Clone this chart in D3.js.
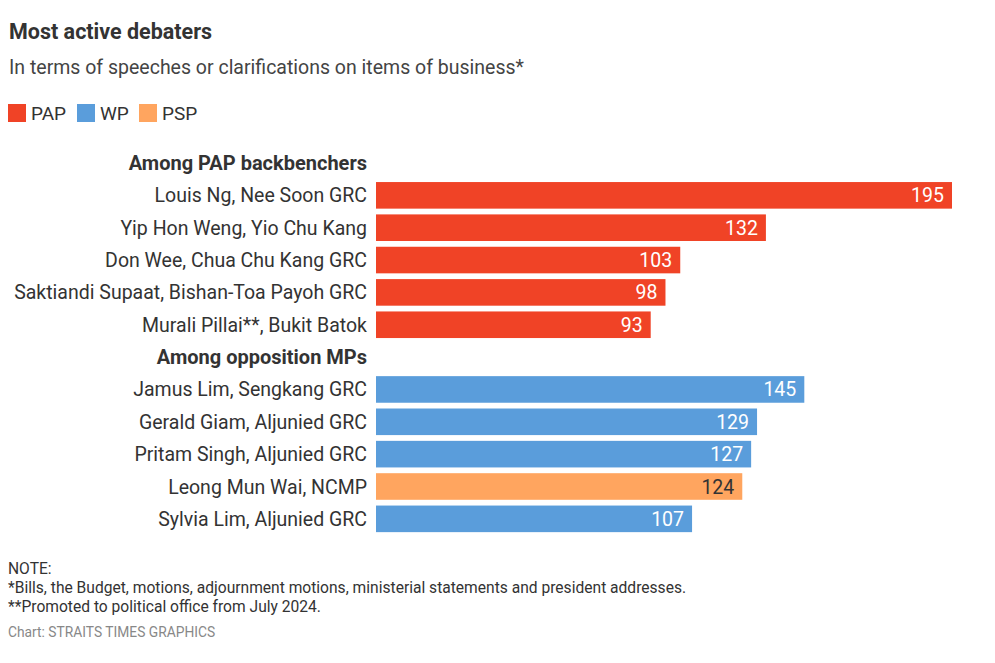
<!DOCTYPE html>
<html>
<head>
<meta charset="utf-8">
<script src="https://cdn.jsdelivr.net/npm/d3@7"></script>
<style>
  body { margin: 0; background: #fff; }
  svg text { font-family: Roboto, "Noto Sans", sans-serif; }
</style>
</head>
<body>
<div id="viz"></div>
<script>
// data
var groups = ['Among PAP backbenchers', 'Among opposition MPs'];

var papNames = ['Louis Ng, Nee Soon GRC', 'Yip Hon Weng, Yio Chu Kang', 'Don Wee, Chua Chu Kang GRC',
  'Saktiandi Supaat, Bishan-Toa Payoh GRC', 'Murali Pillai**, Bukit Batok'];
var papValues = [195, 132, 103, 98, 93];

var oppNames = ['Jamus Lim, Sengkang GRC', 'Gerald Giam, Aljunied GRC', 'Pritam Singh, Aljunied GRC',
  'Leong Mun Wai, NCMP', 'Sylvia Lim, Aljunied GRC'];
var oppValues = [145, 129, 127, 124, 107];
var oppParties = ['WP', 'WP', 'WP', 'PSP', 'WP'];

var parties = ['PAP', 'WP', 'PSP'];
var partyColors = ['#f04326', '#5a9ddb', '#ffa55f'];

var notes = ['NOTE:',
  '*Bills, the Budget, motions, adjournment motions, ministerial statements and president addresses.',
  '**Promoted to political office from July 2024.'];
var credit = 'Chart: STRAITS TIMES GRAPHICS';

// build the row list: a header row then the bars for each group
var rows = [];
rows.push({key: 'h0', header: groups[0]});
papNames.forEach(function(n, i) { rows.push({key: 'p' + i, name: n, value: papValues[i], party: 'PAP'}); });
rows.push({key: 'h1', header: groups[1]});
oppNames.forEach(function(n, i) { rows.push({key: 'o' + i, name: n, value: oppValues[i], party: oppParties[i]}); });

var width = 995, height = 663;
var svg = d3.select('#viz').append('svg')
  .attr('width', width)
  .attr('height', height);

var color = d3.scaleOrdinal().domain(parties).range(partyColors);

// title
svg.append('text').attr('x', 9).attr('y', 39)
  .attr('font-size', 21.5).attr('font-weight', 700).attr('fill', '#333')
  .text('Most active debaters');
svg.append('text').attr('x', 9).attr('y', 74)
  .attr('font-size', 19.5).attr('fill', '#444')
  .text('In terms of speeches or clarifications on items of business*');

// legend
var legendX = [8, 77, 139];
var legend = svg.append('g').attr('transform', 'translate(0,104)');
var li = legend.selectAll('g').data(parties).enter().append('g')
  .attr('transform', function(d, i) { return 'translate(' + legendX[i] + ',0)'; });
li.append('rect').attr('width', 18).attr('height', 18).attr('fill', function(d) { return color(d); });
li.append('text').attr('x', 23).attr('y', 16)
  .attr('font-size', 19).attr('fill', '#333')
  .text(function(d) { return d; });

// scales
var step = 32.35, pad = 0.178;
var y0 = 149.7 - step * pad / 2;
var y = d3.scaleBand()
  .domain(rows.map(function(d) { return d.key; }))
  .range([y0, y0 + step * rows.length])
  .paddingInner(pad)
  .paddingOuter(pad / 2);

var x = d3.scaleLinear().domain([0, 195]).range([376, 952]);
var labelX = 367;

var chart = svg.append('g');

// group headers
chart.selectAll('.header').data(rows.filter(function(d) { return d.header; })).enter()
  .append('text')
  .attr('class', 'header')
  .attr('x', labelX)
  .attr('y', function(d) { return y(d.key) + y.bandwidth() / 2; })
  .attr('dy', '0.35em')
  .attr('text-anchor', 'end')
  .attr('font-size', 20).attr('font-weight', 700).attr('fill', '#333')
  .text(function(d) { return d.header; });

var bars = rows.filter(function(d) { return !d.header; });

chart.selectAll('.name').data(bars).enter()
  .append('text')
  .attr('class', 'name')
  .attr('x', labelX)
  .attr('y', function(d) { return y(d.key) + y.bandwidth() / 2; })
  .attr('dy', '0.36em')
  .attr('text-anchor', 'end')
  .attr('font-size', 19.5).attr('fill', '#333')
  .text(function(d) { return d.name; });

chart.selectAll('.bar').data(bars).enter()
  .append('rect')
  .attr('class', 'bar')
  .attr('x', x(0))
  .attr('y', function(d) { return y(d.key); })
  .attr('width', function(d) { return x(d.value) - x(0); })
  .attr('height', y.bandwidth())
  .attr('fill', function(d) { return color(d.party); });

chart.selectAll('.val').data(bars).enter()
  .append('text')
  .attr('class', 'val')
  .attr('x', function(d) { return x(d.value) - 8; })
  .attr('y', function(d) { return y(d.key) + y.bandwidth() / 2; })
  .attr('dy', '0.36em')
  .attr('text-anchor', 'end')
  .attr('font-size', 19.5)
  .attr('fill', function(d) { return d.party === 'PSP' ? '#333' : '#fff'; })
  .text(function(d) { return d.value; });

// notes
svg.selectAll('.note').data(notes).enter()
  .append('text')
  .attr('class', 'note')
  .attr('x', 8)
  .attr('y', function(d, i) { return 574 + i * 19; })
  .attr('font-size', 15.6).attr('fill', '#333')
  .text(function(d) { return d; });

svg.append('text').attr('x', 8).attr('y', 637)
  .attr('font-size', 13.8).attr('fill', '#888')
  .text(credit);
</script>
</body>
</html>
